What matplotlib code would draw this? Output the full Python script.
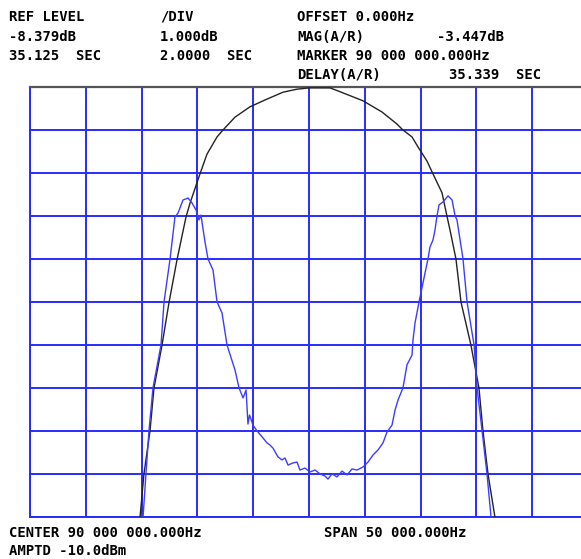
#!/usr/bin/env python3
import matplotlib
matplotlib.use("Agg")
import matplotlib.pyplot as plt

# network analyser screen: magnitude (black) and group delay (blue)
# center 90 MHz, span 50 MHz, 1 dB/div and 2 s/div, ref at centre line
ref_mag = -8.379
ref_delay = 35.125

mag_freq = [74.75, 74.86, 75.21, 75.75, 76.11, 76.83, 77.45, 78.17, 78.98, 79.34,
            80.23, 80.86, 81.76, 82.29, 83.37, 84.71, 86.24, 87.67, 88.92, 90.00,
            91.88, 92.60, 94.84, 96.54, 97.88, 98.42, 99.23, 99.76, 100.57, 101.11,
            101.92, 102.36, 102.63, 103.17, 103.62, 104.51, 105.23, 105.59, 106.04,
            106.66, 106.80]
mag_db = [-13.50, -13.38, -12.38, -11.38, -10.38, -9.38, -8.40, -7.40, -6.40, -6.08,
          -5.40, -4.94, -4.54, -4.38, -4.08, -3.84, -3.66, -3.50, -3.43, -3.40,
          -3.40, -3.47, -3.70, -3.96, -4.24, -4.38, -4.54, -4.77, -5.10, -5.40,
          -5.84, -6.38, -6.70, -7.38, -8.38, -9.38, -10.38, -11.38, -12.38,
          -13.38, -13.50]

delay_freq = [75.05, 75.13, 75.39, 75.66, 76.02, 76.74, 77.01, 77.55, 77.99, 78.26,
              78.71, 79.16, 79.52, 79.88, 80.14, 80.32, 80.41, 80.68, 80.95, 81.40,
              81.76, 82.21, 82.65, 83.37, 83.73, 84.09, 84.36, 84.53, 84.67, 84.98,
              85.34, 85.88, 86.24, 86.51, 86.77, 87.22, 87.58, 87.85, 88.12, 88.57,
              88.93, 89.19, 89.64, 90.09, 90.54, 90.99, 91.43, 91.70, 92.06, 92.51,
              92.96, 93.41, 93.85, 94.30, 94.84, 95.29, 95.74, 96.18, 96.63, 96.99,
              97.44, 97.71, 97.98, 98.42, 98.78, 99.23, 99.32, 99.50, 99.86, 100.66,
              100.84, 101.11, 101.29, 101.47, 101.65, 102.01, 102.46, 102.82, 103.09,
              103.26, 103.80, 103.89, 104.16, 104.79, 105.06, 105.51, 105.95, 106.31,
              106.40]
delay_sec = [24.80, 25.13, 27.13, 29.13, 31.13, 33.13, 35.13, 37.13, 39.08, 39.26,
             39.87, 39.96, 39.73, 39.40, 38.94, 39.17, 38.85, 37.92, 37.13, 36.61,
             35.13, 34.61, 33.13, 31.96, 31.13, 30.66, 31.03, 29.45, 29.87, 29.40,
             29.13, 28.80, 28.57, 28.47, 28.33, 27.92, 27.78, 27.87, 27.54, 27.64,
             27.68, 27.31, 27.40, 27.22, 27.31, 27.13, 27.03, 26.89, 27.13, 26.99,
             27.26, 27.08, 27.36, 27.31, 27.45, 27.68, 28.01, 28.24, 28.57, 29.08,
             29.40, 30.10, 30.57, 31.13, 32.20, 32.66, 33.36, 34.15, 35.13, 37.13,
             37.68, 38.01, 38.47, 39.13, 39.64, 39.78, 40.06, 39.87, 39.13, 38.94,
             37.13, 36.61, 35.13, 33.13, 31.13, 29.13, 27.13, 25.13, 24.80]

header_left = [("REF LEVEL", 9, 17), ("-8.379dB", 9, 37), ("35.125  SEC", 9, 56),
               ("/DIV", 160, 17), ("1.000dB", 160, 37), ("2.0000  SEC", 160, 56),
               ("OFFSET 0.000Hz", 297, 17), ("MAG(A/R)", 297, 37),
               ("-3.447dB", 437, 37), ("MARKER 90 000 000.000Hz", 297, 56),
               ("DELAY(A/R)", 297, 75), ("35.339  SEC", 449, 75),
               ("CENTER 90 000 000.000Hz", 9, 533), ("SPAN 50 000.000Hz", 324, 533),
               ("AMPTD -10.0dBm", 9, 551)]

W, H = 581, 559
grid_col = "#2a2aff"

fig = plt.figure(figsize=(W / 100, H / 100), dpi=100)
ax = fig.add_axes([30 / W, (H - 517) / H, 558 / W, 430 / H])

ax.set_xlim(65, 115)
ax.set_ylim(ref_mag - 5, ref_mag + 5)
ax.set_xticks(range(65, 116, 5))
ax.set_yticks([ref_mag - 5 + i for i in range(11)])
ax.tick_params(length=0, labelleft=False, labelbottom=False)
ax.grid(True, color=grid_col, lw=1.4)
for s in ["left", "bottom", "right"]:
    ax.spines[s].set_color(grid_col)
    ax.spines[s].set_linewidth(1.4)
ax.spines["top"].set_color("#555555")
ax.spines["top"].set_linewidth(1.6)

ax.plot(mag_freq, mag_db, color="#222222", lw=1.0, zorder=3)

ax2 = ax.twinx()
ax2.set_ylim(ref_delay - 10, ref_delay + 10)
ax2.axis("off")
ax2.plot(delay_freq, delay_sec, color="#3c3cff", lw=1.0, zorder=3)

for txt, x, y in header_left:
    fig.text(x / W, 1 - y / H, txt, ha="left", va="center",
             family="DejaVu Sans Mono", weight="bold", fontsize=10)

plt.savefig("out.png", dpi=100)
